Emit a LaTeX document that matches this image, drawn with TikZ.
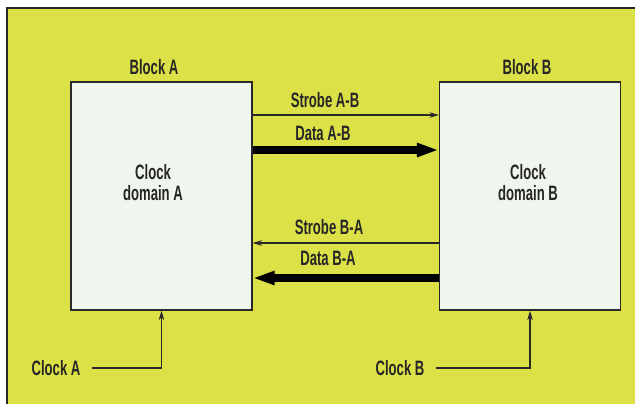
\documentclass[tikz,border=0pt]{standalone}
\usepackage{fontspec}
\setmainfont{Liberation Sans}[FakeStretch=0.63]
\usepackage{tikz}
\usetikzlibrary{arrows.meta, positioning, calc}
\definecolor{pageyellow}{RGB}{221, 225, 72}
\definecolor{boxfill}{RGB}{240, 246, 238}
\definecolor{inkgray}{RGB}{40, 40, 40}
\tikzset{
  >=Stealth,
  strobearrow/.style={-{Stealth[length=2.4mm, width=1.4mm]}, line width=0.8pt, inkgray},
  dataarrow/.style={-{Triangle[length=5.5mm, width=3.2mm]}, line width=5pt, black},
  clockarrow/.style={-{Stealth[length=2.4mm, width=1.4mm]}, line width=0.8pt, inkgray}
}

\begin{document}
\begin{tikzpicture}[x=0.025cm, y=-0.025cm, font=\fontsize{14.8}{15}\selectfont\bfseries,
    blockbox/.style={draw=inkgray, line width=0.9pt, fill=boxfill, minimum width=4.52cm, minimum height=5.7cm},
    txt/.style={inner sep=2pt, text=black!85}]

    \useasboundingbox (0,0) rectangle (635,404);
    % Background and frame
    \fill[white] (0,0) rectangle (635,404);
    \fill[pageyellow] (7,8) rectangle (635,404);
    \draw[inkgray, line width=0.8pt] (7,404) |- (635,8);

    % Row heights of the links
    \def\yStAB{115}
    \def\yDaAB{150}
    \def\yStBA{243}
    \def\yDaBA{278}

    % Blocks
    \node[blockbox] (blockA) at (161.5, 196) {};
    \node[blockbox] (blockB) at (530, 196) {};
    \node[txt] (titleA) at (154, 67) {Block A};
    \node[txt] (titleB) at (527, 67) {Block B};
    \node[txt, align=center] (domA) at (153, 183) {Clock\\domain A};
    \node[txt, align=center] (domB) at (528, 183) {Clock\\domain B};

    % Link labels
    \node[txt] (lStAB) at (325, 100) {Strobe A-B};
    \node[txt] (lDaAB) at (323, 133.5) {Data A-B};
    \node[txt] (lStBA) at (329, 227) {Strobe B-A};
    \node[txt] (lDaBA) at (328, 258.5) {Data B-A};

    \coordinate (cStAB) at (0, \yStAB);
    \coordinate (cDaAB) at (0, \yDaAB);
    \coordinate (cStBA) at (0, \yStBA);
    \coordinate (cDaBA) at (0, \yDaBA);

    % Arrows A -> B
    \draw[strobearrow] (blockA.east |- cStAB) -- (blockB.west |- cStAB);
    \draw[dataarrow] (blockA.east |- cDaAB) -- (blockB.west |- cDaAB);

    % Arrows B -> A
    \draw[strobearrow] (blockB.west |- cStBA) -- (blockA.east |- cStBA);
    \draw[dataarrow] (blockB.west |- cDaBA) -- (blockA.east |- cDaBA);

    % Clocks
    \node[txt] (clkA) at (56, 368) {Clock A};
    \node[txt] (clkB) at (400, 368) {Clock B};
    \draw[clockarrow, shorten <=2.2mm] (clkA.east) -| (blockA.south);
    \draw[clockarrow, shorten <=2.2mm] (clkB.east) -| (blockB.south);

\end{tikzpicture}
\end{document}
